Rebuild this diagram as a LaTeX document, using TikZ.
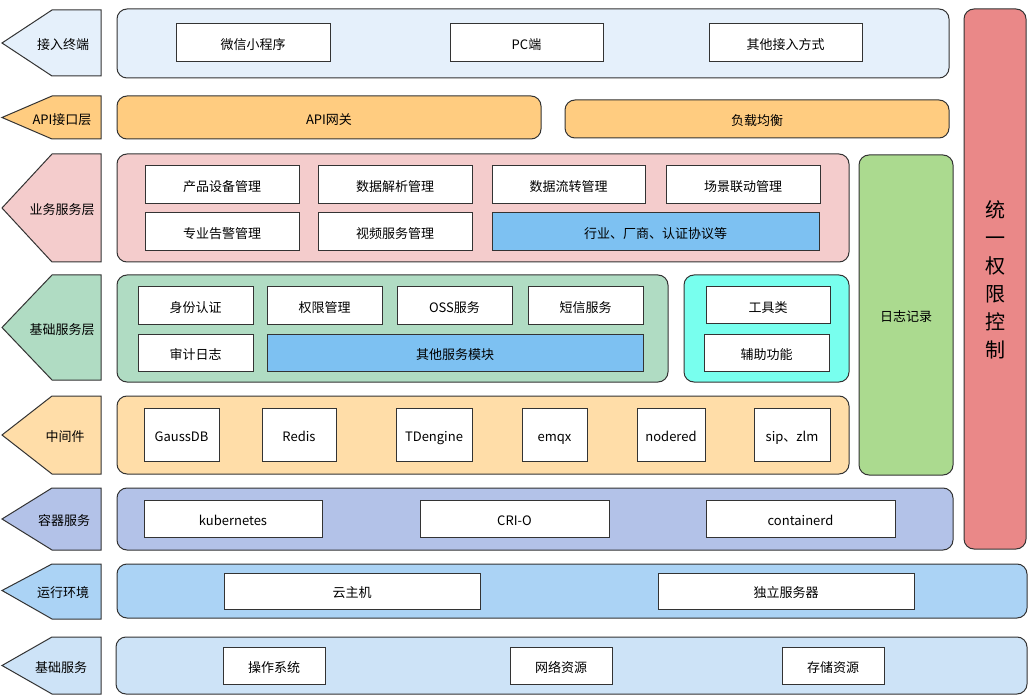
\documentclass[tikz,border=0pt]{standalone}
\usepackage{fontspec}
\setmainfont{Noto Sans CJK SC}
\usetikzlibrary{calc}

\definecolor{linegray}{HTML}{333333}
\definecolor{termblue}{HTML}{E5F0FB}
\definecolor{apiorange}{HTML}{FFCC80}
\definecolor{bizpink}{HTML}{F4CCCC}
\definecolor{basegreen}{HTML}{B0DCC3}
\definecolor{toolcyan}{HTML}{78FFEE}
\definecolor{loggreen}{HTML}{ABDA8F}
\definecolor{authred}{HTML}{EA8888}
\definecolor{midorange}{HTML}{FFDDA8}
\definecolor{contblue}{HTML}{B3C2E8}
\definecolor{runblue}{HTML}{ABD3F5}
\definecolor{infrablue}{HTML}{CDE3F7}
\definecolor{itemblue}{HTML}{7DC1F2}

\begin{document}
\begin{tikzpicture}[x=0.75pt,y=-0.75pt,line width=0.75pt,
  font=\fontsize{9.75}{11}\selectfont,
  txt/.style={text height=10.5pt, text depth=0.5pt},
  tag/.style={draw=linegray},
  layer/.style={draw=linegray, rounded corners=7.5pt},
  item/.style={draw=linegray, fill=white}]

\useasboundingbox (0,0) rectangle (1028,695);

% left tags
\draw[tag, fill=termblue] (2,43) -- (52,10) -- (101,10) -- (101,76) -- (52,76) -- cycle;
\node[txt] (tag1) at (63,43) {接入终端};
\draw[tag, fill=apiorange] (2,117.5) -- (52,96) -- (101,96) -- (101,139) -- (52,139) -- cycle;
\node[txt] (tag2) at (62,117.5) {API接口层};
\draw[tag, fill=bizpink] (2,208) -- (52,154) -- (101,154) -- (101,262) -- (52,262) -- cycle;
\node[txt] (tag3) at (62,208) {业务服务层};
\draw[tag, fill=basegreen] (2,327.5) -- (52,275) -- (101,275) -- (101,380) -- (52,380) -- cycle;
\node[txt] (tag4) at (62,327.5) {基础服务层};
\draw[tag, fill=midorange] (2,435) -- (52,396) -- (101,396) -- (101,474) -- (52,474) -- cycle;
\node[txt] (tag5) at (65,435) {中间件};
\draw[tag, fill=contblue] (2,519) -- (52,488) -- (101,488) -- (101,550) -- (52,550) -- cycle;
\node[txt] (tag6) at (64,519) {容器服务};
\draw[tag, fill=runblue] (2,590.5) -- (52,564) -- (101,564) -- (101,619) -- (52,619) -- cycle;
\node[txt] (tag7) at (63,590.5) {运行环境};
\draw[tag, fill=infrablue] (2,665.5) -- (52,637) -- (101,637) -- (101,694) -- (52,694) -- cycle;
\node[txt] (tag8) at (61,665.5) {基础服务};

% layer boxes
\draw[layer, fill=termblue] (117,9) rectangle (949,78);
\draw[layer, fill=apiorange] (117,96) rectangle (541,139) node[midway, txt] (gw) {API网关};
\draw[layer, fill=apiorange] (565,100) rectangle (949,138) node[midway, txt] (lb) {负载均衡};
\draw[layer, fill=bizpink] (117,154) rectangle (849,262);
\draw[layer, fill=basegreen] (117,275) rectangle (668,382);
\draw[layer, fill=toolcyan] (684,275) rectangle (849,382);
\draw[layer, fill=loggreen] (859,155) rectangle (953,475) node[midway, txt] (log) {日志记录};
\draw[layer, fill=authred] (964,9) rectangle (1026,549);
\node[align=center, font=\fontsize{15}{21}\selectfont] (auth) at (995,280) {统\\一\\权\\限\\控\\制};
\draw[layer, fill=midorange] (117,396) rectangle (849,474);
\draw[layer, fill=contblue] (117,488) rectangle (953,550);
\draw[layer, fill=runblue] (117,564) rectangle (1027,618);
\draw[layer, fill=infrablue] (116,637) rectangle (1027,694);

% access terminals
\draw[item] (176,24) rectangle (330,62) node[midway, txt] (wx) {微信小程序};
\draw[item] (450,24) rectangle (603,62) node[midway, txt] (pc) {PC端};
\draw[item] (709,24) rectangle (862,62) node[midway, txt] (other) {其他接入方式};

% business services
\draw[item] (145,166) rectangle (299,204) node[midway, txt] (prod) {产品设备管理};
\draw[item] (318,166) rectangle (472,204) node[midway, txt] (parse) {数据解析管理};
\draw[item] (492,166) rectangle (645,204) node[midway, txt] (flow) {数据流转管理};
\draw[item] (666,166) rectangle (820,204) node[midway, txt] (scene) {场景联动管理};
\draw[item] (145,213) rectangle (299,251) node[midway, txt] (alarm) {专业告警管理};
\draw[item] (318,213) rectangle (472,251) node[midway, txt] (video) {视频服务管理};
\draw[item, fill=itemblue] (492,213) rectangle (819,251) node[midway, txt] (proto) {行业、厂商、认证协议等};

% base services
\draw[item] (138,287) rectangle (253,325) node[midway, txt] (ident) {身份认证};
\draw[item] (267,287) rectangle (382,325) node[midway, txt] (perm) {权限管理};
\draw[item] (397,287) rectangle (512,325) node[midway, txt] (oss) {OSS服务};
\draw[item] (528,287) rectangle (643,325) node[midway, txt] (sms) {短信服务};
\draw[item] (138,334) rectangle (253,371) node[midway, txt] (audit) {审计日志};
\draw[item, fill=itemblue] (267,334) rectangle (643,371) node[midway, txt] (more) {其他服务模块};
\draw[item] (706,287) rectangle (830,324) node[midway, txt] (tools) {工具类};
\draw[item] (704,334) rectangle (829,371) node[midway, txt] (aux) {辅助功能};

% middleware
\draw[item] (144,408) rectangle (219,461) node[midway, txt] (gauss) {GaussDB};
\draw[item] (262,408) rectangle (336,461) node[midway, txt] (redis) {Redis};
\draw[item] (396,408) rectangle (472,461) node[midway, txt] (tdeng) {TDengine};
\draw[item] (522,408) rectangle (587,461) node[midway, txt] (emqx) {emqx};
\draw[item] (637,408) rectangle (705,461) node[midway, txt] (nred) {nodered};
\draw[item] (754,408) rectangle (830,461) node[midway, txt] (sip) {sip、zlm};

% container services
\draw[item] (144,500) rectangle (322,537) node[midway, txt] (k8s) {kubernetes};
\draw[item] (420,500) rectangle (609,537) node[midway, txt] (crio) {CRI-O};
\draw[item] (706,500) rectangle (895,537) node[midway, txt] (ctrd) {containerd};

% runtime
\draw[item] (224,573) rectangle (480,609) node[midway, txt] (vm) {云主机};
\draw[item] (658,573) rectangle (914,609) node[midway, txt] (srv) {独立服务器};

% infrastructure
\draw[item] (223,647) rectangle (325,684) node[midway, txt] (os) {操作系统};
\draw[item] (510,647) rectangle (612,684) node[midway, txt] (net) {网络资源};
\draw[item] (782,647) rectangle (884,684) node[midway, txt] (store) {存储资源};

\end{tikzpicture}
\end{document}
